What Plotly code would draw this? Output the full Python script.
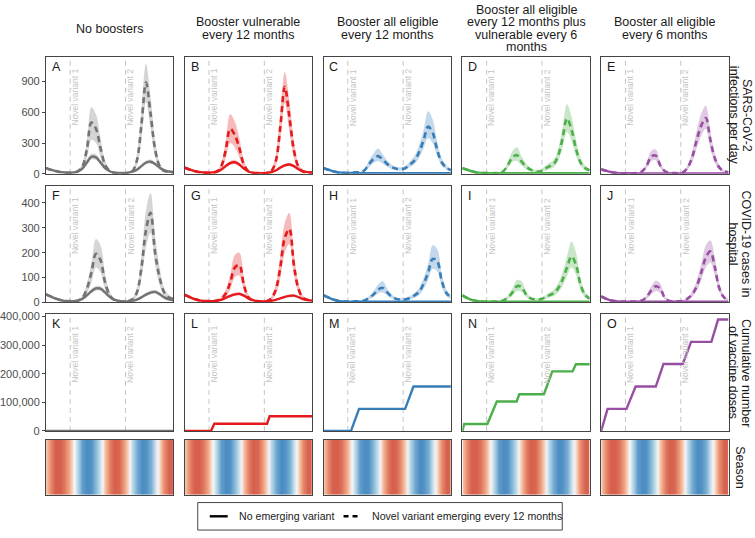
import plotly.graph_objects as go
from plotly.subplots import make_subplots

W, H = 755, 538

# time axis (days since start of simulation)
days = [0, 30, 60, 90, 120, 150, 180, 210, 240, 270, 300, 330, 360, 390, 420,
        450, 480, 510, 540, 570, 600, 630, 660, 690, 720, 750, 780, 810, 840]

variant_days = [160, 525]
variant_labels = ['Novel variant 1', 'Novel variant 2']

col_titles = [['No boosters'],
              ['Booster vulnerable', 'every 12 months'],
              ['Booster all eligible', 'every 12 months'],
              ['Booster all eligible', 'every 12 months plus', 'vulnerable every 6', 'months'],
              ['Booster all eligible', 'every 6 months']]
row_titles = [['SARS-CoV-2', 'infections per day'],
              ['COVID-19 cases in', 'hospital'],
              ['Cumulative number', 'of vaccine doses'],
              ['Season']]
letters = ['A', 'B', 'C', 'D', 'E', 'F', 'G', 'H', 'I', 'J', 'K', 'L', 'M', 'N', 'O']

# ---- infections per day ----
inf_A_sol    = [55, 40, 28, 18, 12, 10, 12, 22, 50, 110, 165, 160, 110, 55, 25, 12, 8, 7, 10, 20, 40, 75, 108, 118, 95, 60, 35, 22, 18]
inf_A_sol_lo = [45, 32, 22, 14, 9, 8, 9, 17, 40, 90, 140, 135, 92, 45, 20, 9, 6, 5, 8, 16, 32, 62, 92, 100, 80, 50, 28, 17, 14]
inf_A_sol_hi = [68, 50, 35, 23, 15, 13, 15, 28, 62, 132, 195, 190, 130, 68, 31, 15, 10, 9, 13, 25, 50, 90, 128, 140, 112, 72, 43, 28, 23]
inf_A_das    = [55, 40, 28, 18, 12, 10, 12, 25, 70, 240, 500, 440, 250, 90, 28, 10, 6, 5, 8, 25, 130, 480, 890, 590, 240, 75, 28, 18, 15]
inf_A_das_lo = [45, 32, 22, 14, 9, 8, 9, 17, 45, 150, 330, 300, 160, 55, 18, 7, 4, 3, 5, 15, 80, 330, 700, 450, 170, 50, 18, 12, 10]
inf_A_das_hi = [68, 50, 35, 23, 15, 13, 16, 35, 100, 330, 650, 580, 350, 130, 42, 15, 9, 8, 12, 38, 190, 640, 1075, 760, 330, 110, 42, 26, 22]

inf_B_sol    = [60, 42, 28, 18, 12, 10, 12, 20, 40, 75, 105, 112, 90, 50, 22, 10, 7, 6, 8, 15, 32, 60, 82, 90, 75, 45, 25, 16, 12]
inf_B_sol_lo = [50, 35, 23, 14, 9, 8, 9, 15, 31, 60, 88, 94, 75, 41, 17, 7, 5, 4, 6, 11, 25, 48, 68, 75, 62, 37, 20, 12, 9]
inf_B_sol_hi = [72, 50, 34, 22, 15, 13, 15, 26, 50, 92, 126, 134, 108, 60, 28, 13, 9, 8, 11, 19, 40, 73, 98, 108, 90, 55, 31, 20, 15]
inf_B_das    = [60, 42, 28, 18, 12, 10, 12, 20, 70, 230, 440, 380, 250, 90, 25, 7, 5, 5, 8, 25, 120, 450, 850, 560, 230, 70, 22, 14, 12]
inf_B_das_lo = [50, 35, 23, 14, 9, 8, 9, 14, 45, 150, 300, 260, 160, 55, 15, 4, 3, 3, 5, 15, 75, 320, 690, 420, 160, 45, 14, 9, 8]
inf_B_das_hi = [72, 50, 34, 22, 15, 13, 16, 28, 100, 320, 580, 510, 350, 130, 38, 11, 8, 8, 12, 38, 180, 600, 990, 720, 320, 100, 32, 20, 17]

inf_C_sol    = [55, 40, 25, 15, 10, 8, 7, 7, 6, 6, 6, 6, 6, 5, 5, 5, 5, 5, 5, 5, 5, 5, 5, 5, 5, 5, 5, 5, 5]
inf_C_sol_lo = [48, 34, 21, 12, 8, 6, 5, 5, 4, 4, 4, 4, 4, 3, 3, 3, 3, 3, 3, 3, 3, 3, 3, 3, 3, 3, 3, 3, 3]
inf_C_sol_hi = [63, 46, 29, 18, 12, 10, 9, 9, 8, 8, 8, 8, 8, 7, 7, 7, 7, 7, 7, 7, 7, 7, 7, 7, 7, 7, 7, 7, 7]
inf_C_das    = [55, 40, 25, 15, 10, 8, 10, 15, 15, 35, 95, 145, 172, 140, 95, 65, 50, 45, 55, 90, 130, 210, 330, 460, 400, 230, 110, 60, 35]
inf_C_das_lo = [48, 34, 21, 12, 8, 6, 7, 10, 10, 22, 65, 105, 125, 100, 68, 46, 35, 32, 40, 65, 95, 155, 250, 350, 300, 170, 80, 42, 24]
inf_C_das_hi = [63, 46, 29, 18, 12, 10, 13, 20, 21, 50, 130, 200, 248, 190, 128, 88, 68, 62, 78, 120, 175, 280, 430, 610, 530, 310, 150, 82, 48]

inf_D_sol    = [55, 40, 25, 14, 9, 7, 6, 6, 5, 5, 5, 5, 5, 5, 5, 5, 5, 5, 5, 5, 5, 5, 5, 5, 5, 5, 5, 5, 5]
inf_D_sol_lo = [48, 34, 21, 12, 7, 5, 4, 4, 3, 3, 3, 3, 3, 3, 3, 3, 3, 3, 3, 3, 3, 3, 3, 3, 3, 3, 3, 3, 3]
inf_D_sol_hi = [63, 46, 29, 17, 11, 9, 8, 8, 7, 7, 7, 7, 7, 7, 7, 7, 7, 7, 7, 7, 7, 7, 7, 7, 7, 7, 7, 7, 7]
inf_D_das    = [55, 40, 25, 14, 9, 7, 6, 6, 8, 25, 85, 160, 182, 120, 70, 40, 25, 22, 45, 70, 90, 170, 340, 540, 430, 240, 110, 55, 35]
inf_D_das_lo = [48, 34, 21, 12, 7, 5, 4, 4, 5, 16, 58, 115, 125, 80, 46, 26, 16, 14, 28, 45, 60, 120, 250, 410, 320, 170, 75, 36, 22]
inf_D_das_hi = [63, 46, 29, 17, 11, 9, 8, 8, 11, 36, 120, 220, 262, 170, 100, 58, 37, 33, 68, 105, 130, 235, 450, 680, 560, 330, 155, 80, 52]

inf_E_sol    = [45, 30, 18, 10, 6, 5, 5, 5, 4, 4, 4, 4, 4, 4, 4, 4, 4, 4, 4, 4, 4, 4, 4, 4, 4, 4, 4, 4, 4]
inf_E_sol_lo = [40, 26, 15, 8, 5, 4, 4, 4, 3, 3, 3, 3, 3, 3, 3, 3, 3, 3, 3, 3, 3, 3, 3, 3, 3, 3, 3, 3, 3]
inf_E_sol_hi = [52, 35, 22, 12, 8, 6, 6, 6, 5, 5, 5, 5, 5, 5, 5, 5, 5, 5, 5, 5, 5, 5, 5, 5, 5, 5, 5, 5, 5]
inf_E_das    = [45, 30, 18, 10, 6, 5, 5, 5, 8, 25, 80, 170, 178, 80, 25, 10, 7, 6, 15, 60, 160, 330, 470, 545, 330, 150, 60, 25, 15]
inf_E_das_lo = [40, 26, 15, 8, 5, 4, 4, 4, 5, 16, 55, 125, 130, 55, 16, 6, 4, 4, 9, 40, 115, 250, 370, 440, 250, 105, 40, 16, 9]
inf_E_das_hi = [52, 35, 22, 12, 8, 6, 6, 6, 11, 35, 110, 225, 238, 110, 36, 14, 10, 9, 22, 85, 215, 420, 590, 665, 420, 200, 82, 35, 22]

# ---- hospital occupancy ----
hos_A_sol    = [32, 24, 16, 10, 6, 5, 5, 7, 14, 28, 45, 56, 55, 40, 22, 11, 6, 4, 4, 6, 11, 20, 31, 39, 42, 33, 20, 12, 8]
hos_A_sol_lo = [27, 20, 13, 8, 5, 4, 4, 5, 11, 22, 37, 47, 46, 33, 18, 9, 5, 3, 3, 5, 8, 16, 25, 32, 35, 27, 16, 9, 6]
hos_A_sol_hi = [38, 29, 19, 12, 8, 6, 6, 9, 17, 34, 54, 66, 65, 48, 27, 14, 8, 5, 5, 8, 14, 25, 38, 47, 50, 40, 25, 15, 10]
hos_A_das    = [32, 24, 16, 10, 6, 5, 5, 7, 18, 55, 120, 195, 170, 80, 30, 10, 5, 4, 5, 12, 40, 140, 290, 360, 200, 100, 40, 20, 14]
hos_A_das_lo = [27, 20, 13, 8, 5, 4, 4, 5, 12, 35, 80, 140, 120, 52, 18, 6, 3, 2, 3, 7, 25, 95, 220, 280, 150, 70, 26, 12, 9]
hos_A_das_hi = [38, 29, 19, 12, 8, 6, 6, 10, 25, 75, 160, 255, 230, 115, 45, 15, 8, 6, 8, 18, 58, 190, 370, 440, 270, 140, 58, 30, 20]

hos_B_sol    = [30, 22, 14, 9, 6, 5, 5, 6, 10, 18, 26, 32, 34, 27, 16, 9, 5, 4, 4, 6, 10, 16, 22, 26, 27, 21, 13, 9, 7]
hos_B_sol_lo = [25, 18, 11, 7, 5, 4, 4, 5, 8, 14, 21, 26, 28, 22, 13, 7, 4, 3, 3, 5, 8, 13, 18, 21, 22, 17, 10, 7, 5]
hos_B_sol_hi = [36, 27, 17, 11, 8, 6, 6, 8, 12, 22, 32, 39, 41, 33, 20, 11, 7, 5, 5, 8, 12, 20, 27, 32, 33, 26, 16, 11, 9]
hos_B_das    = [30, 22, 14, 9, 6, 5, 5, 7, 15, 35, 80, 140, 150, 70, 20, 8, 5, 4, 5, 15, 50, 140, 260, 295, 150, 55, 18, 10, 8]
hos_B_das_lo = [25, 18, 11, 7, 5, 4, 4, 5, 10, 22, 52, 100, 108, 48, 13, 5, 3, 2, 3, 9, 32, 95, 200, 235, 110, 38, 11, 6, 5]
hos_B_das_hi = [36, 27, 17, 11, 8, 6, 6, 9, 21, 50, 110, 190, 200, 100, 30, 11, 7, 6, 7, 22, 70, 190, 320, 360, 200, 78, 27, 15, 11]

hos_C_sol    = [28, 20, 12, 7, 4, 3, 3, 3, 3, 3, 3, 3, 3, 3, 3, 3, 3, 3, 3, 3, 3, 3, 3, 3, 3, 3, 3, 3, 3]
hos_C_sol_lo = [24, 17, 10, 6, 3, 2, 2, 2, 2, 2, 2, 2, 2, 2, 2, 2, 2, 2, 2, 2, 2, 2, 2, 2, 2, 2, 2, 2, 2]
hos_C_sol_hi = [33, 24, 14, 9, 5, 4, 4, 4, 4, 4, 4, 4, 4, 4, 4, 4, 4, 4, 4, 4, 4, 4, 4, 4, 4, 4, 4, 4, 4]
hos_C_das    = [28, 20, 12, 7, 4, 3, 3, 4, 5, 8, 18, 32, 52, 58, 40, 22, 14, 11, 12, 18, 28, 42, 75, 120, 175, 165, 85, 38, 20]
hos_C_das_lo = [24, 17, 10, 6, 3, 2, 2, 3, 3, 5, 12, 22, 36, 40, 28, 15, 9, 7, 8, 12, 19, 29, 55, 90, 135, 125, 62, 26, 13]
hos_C_das_hi = [33, 24, 14, 9, 5, 4, 4, 5, 7, 11, 25, 45, 72, 85, 56, 31, 20, 16, 17, 25, 38, 58, 98, 155, 230, 215, 112, 52, 28]

hos_D_sol    = [28, 18, 10, 6, 4, 3, 3, 3, 3, 3, 3, 3, 3, 3, 3, 3, 3, 3, 3, 3, 3, 3, 3, 3, 3, 3, 3, 3, 3]
hos_D_sol_lo = [24, 15, 8, 5, 3, 2, 2, 2, 2, 2, 2, 2, 2, 2, 2, 2, 2, 2, 2, 2, 2, 2, 2, 2, 2, 2, 2, 2, 2]
hos_D_sol_hi = [33, 21, 12, 7, 5, 4, 4, 4, 4, 4, 4, 4, 4, 4, 4, 4, 4, 4, 4, 4, 4, 4, 4, 4, 4, 4, 4, 4, 4]
hos_D_das    = [28, 18, 10, 6, 4, 3, 3, 3, 4, 8, 20, 40, 65, 62, 32, 16, 12, 12, 18, 28, 36, 55, 90, 140, 185, 150, 70, 30, 15]
hos_D_das_lo = [24, 15, 8, 5, 3, 2, 2, 2, 3, 5, 13, 27, 45, 43, 22, 11, 8, 8, 12, 19, 25, 38, 65, 105, 140, 110, 50, 20, 10]
hos_D_das_hi = [33, 21, 12, 7, 5, 4, 4, 4, 5, 11, 28, 56, 90, 85, 45, 23, 17, 17, 25, 38, 50, 76, 120, 185, 245, 200, 95, 42, 21]

hos_E_sol    = [24, 15, 8, 5, 3, 3, 3, 3, 3, 3, 3, 3, 3, 3, 3, 3, 3, 3, 3, 3, 3, 3, 3, 3, 3, 3, 3, 3, 3]
hos_E_sol_lo = [21, 13, 7, 4, 2, 2, 2, 2, 2, 2, 2, 2, 2, 2, 2, 2, 2, 2, 2, 2, 2, 2, 2, 2, 2, 2, 2, 2, 2]
hos_E_sol_hi = [28, 18, 10, 6, 4, 4, 4, 4, 4, 4, 4, 4, 4, 4, 4, 4, 4, 4, 4, 4, 4, 4, 4, 4, 4, 4, 4, 4, 4]
hos_E_das    = [24, 15, 8, 5, 3, 3, 3, 3, 4, 8, 22, 48, 65, 55, 18, 6, 4, 4, 6, 15, 32, 65, 120, 180, 205, 140, 55, 20, 10]
hos_E_das_lo = [21, 13, 7, 4, 2, 2, 2, 2, 3, 5, 14, 33, 46, 38, 12, 4, 2, 2, 4, 10, 22, 46, 90, 140, 160, 105, 40, 13, 6]
hos_E_das_hi = [28, 18, 10, 6, 4, 4, 4, 4, 6, 11, 30, 65, 88, 75, 26, 9, 6, 6, 9, 21, 44, 88, 155, 230, 250, 180, 75, 28, 15]

# ---- cumulative vaccine doses (breakpoints) ----
dose_A_days = [0, 840]
dose_A      = [0, 0]
dose_B_days = [0, 173, 195, 543, 560, 840]
dose_B      = [0, 0, 25000, 25000, 51000, 51000]
dose_C_days = [0, 181, 234, 538, 593, 840]
dose_C      = [0, 0, 77000, 77000, 155000, 155000]
dose_D_days = [0, 12, 165, 227, 358, 375, 538, 593, 727, 749, 840]
dose_D      = [0, 24000, 24000, 103000, 103000, 128000, 128000, 208000, 208000, 233000, 233000]
dose_E_days = [0, 42, 167, 227, 360, 411, 538, 593, 727, 771, 840]
dose_E      = [0, 77000, 77000, 155000, 155000, 234000, 234000, 311000, 311000, 389000, 389000]

# ---- season forcing strip (+1 = winter/red, -1 = summer/blue) ----
season = [0.3, 0.75, 1.0, 1.0, 0.85, 0.5, 0.1, -0.4, -0.85, -1.0, -0.95, -0.6, -0.15, 0.35, 0.8,
          1.0, 0.95, 0.65, 0.2, -0.3, -0.75, -1.0, -0.95, -0.7, -0.25, 0.25, 0.7, 1.0, 0.95]

colors = ['#737373', '#e41a1c', '#377eb8', '#4daf4a', '#984ea3']
fills = ['rgba(115,115,115,0.3)', 'rgba(228,26,28,0.3)', 'rgba(55,126,184,0.3)',
         'rgba(77,175,74,0.3)', 'rgba(152,78,163,0.3)']

inf_series = [
    (inf_A_sol, inf_A_sol_lo, inf_A_sol_hi, inf_A_das, inf_A_das_lo, inf_A_das_hi),
    (inf_B_sol, inf_B_sol_lo, inf_B_sol_hi, inf_B_das, inf_B_das_lo, inf_B_das_hi),
    (inf_C_sol, inf_C_sol_lo, inf_C_sol_hi, inf_C_das, inf_C_das_lo, inf_C_das_hi),
    (inf_D_sol, inf_D_sol_lo, inf_D_sol_hi, inf_D_das, inf_D_das_lo, inf_D_das_hi),
    (inf_E_sol, inf_E_sol_lo, inf_E_sol_hi, inf_E_das, inf_E_das_lo, inf_E_das_hi),
]
hos_series = [
    (hos_A_sol, hos_A_sol_lo, hos_A_sol_hi, hos_A_das, hos_A_das_lo, hos_A_das_hi),
    (hos_B_sol, hos_B_sol_lo, hos_B_sol_hi, hos_B_das, hos_B_das_lo, hos_B_das_hi),
    (hos_C_sol, hos_C_sol_lo, hos_C_sol_hi, hos_C_das, hos_C_das_lo, hos_C_das_hi),
    (hos_D_sol, hos_D_sol_lo, hos_D_sol_hi, hos_D_das, hos_D_das_lo, hos_D_das_hi),
    (hos_E_sol, hos_E_sol_lo, hos_E_sol_hi, hos_E_das, hos_E_das_lo, hos_E_das_hi),
]
dose_series = [(dose_A_days, dose_A), (dose_B_days, dose_B), (dose_C_days, dose_C),
               (dose_D_days, dose_D), (dose_E_days, dose_E)]

FONT = 'Liberation Sans, Arial, sans-serif'
DASH = '6px,4px'
TXT = '#1a1a1a'

fig = make_subplots(rows=4, cols=5)

# panel geometry in pixels
col_left = [45, 184, 323, 462, 601]
col_w = 127.5
row_top = [54, 185, 316, 444]
row_bot = [173, 304, 435, 500]
y_ranges = [[0, 1140], [0, 470], [0, 408000], [0, 1]]
y_ticks = [[0, 300, 600, 900], [0, 100, 200, 300, 400],
           [0, 100000, 200000, 300000, 400000], []]


def ax_names(r, c):
    idx = r * 5 + c + 1
    s = '' if idx == 1 else str(idx)
    return 'x' + s, 'y' + s


def add_band(lo, hi, fill, r, c):
    fig.add_trace(go.Scatter(x=days, y=lo, mode='lines', line=dict(width=0, shape='spline'),
                             hoverinfo='skip', showlegend=False), row=r, col=c)
    fig.add_trace(go.Scatter(x=days, y=hi, mode='lines', line=dict(width=0, shape='spline'),
                             fill='tonexty', fillcolor=fill, hoverinfo='skip',
                             showlegend=False), row=r, col=c)


for c in range(5):
    for r, series in ((1, inf_series[c]), (2, hos_series[c])):
        sol, sol_lo, sol_hi, das, das_lo, das_hi = series
        add_band(sol_lo, sol_hi, fills[c], r, c + 1)
        add_band(das_lo, das_hi, fills[c], r, c + 1)
        fig.add_trace(go.Scatter(x=days, y=sol, mode='lines', showlegend=False,
                                 line=dict(color=colors[c], width=2.4, shape='spline')),
                      row=r, col=c + 1)
        fig.add_trace(go.Scatter(x=days, y=das, mode='lines', showlegend=False,
                                 line=dict(color=colors[c], width=2.6, shape='spline', dash=DASH)),
                      row=r, col=c + 1)
    dx, dy = dose_series[c]
    fig.add_trace(go.Scatter(x=dx, y=dy, mode='lines', showlegend=False,
                             line=dict(color=colors[c], width=2.4)), row=3, col=c + 1)
    fig.add_trace(go.Heatmap(x=days, y=[0, 1], z=[season, season], zsmooth='best',
                             zmin=-1, zmax=1, showscale=False, hoverinfo='skip',
                             colorscale=[[0, '#4a8cc2'], [0.25, '#9cc8e0'], [0.5, '#f7f7f7'],
                                         [0.75, '#f2a784'], [1, '#d6604d']]),
                  row=4, col=c + 1)

for r in range(4):
    for c in range(5):
        fig.update_xaxes(domain=[col_left[c] / W, (col_left[c] + col_w) / W],
                         range=[0, 840], showgrid=False, zeroline=False, showticklabels=False,
                         ticks='', showline=True, mirror=True, linecolor='#444444', linewidth=1,
                         row=r + 1, col=c + 1)
        fig.update_yaxes(domain=[1 - row_bot[r] / H, 1 - row_top[r] / H],
                         range=y_ranges[r], showgrid=False, zeroline=False,
                         tickvals=y_ticks[r], tickformat=',',
                         showticklabels=(c == 0), ticks='outside' if (c == 0 and r < 3) else '',
                         ticklen=3, tickcolor='#444444',
                         tickfont=dict(size=11, color='#4d4d4d', family=FONT),
                         showline=True, mirror=True, linecolor='#444444', linewidth=1,
                         row=r + 1, col=c + 1)

# variant markers, panel letters
for r in range(3):
    for c in range(5):
        xa, ya = ax_names(r, c)
        for vd, vl in zip(variant_days, variant_labels):
            fig.add_shape(type='line', x0=vd, x1=vd, y0=0, y1=1, xref=xa, yref=ya + ' domain',
                          layer='below', line=dict(color='#c4c4c4', width=1, dash='5px,4px'))
            # label hangs from just below the panel top
            fig.add_annotation(x=vd, y=(119 - 10) / 119, xref=xa, yref=ya + ' domain', text=vl,
                               textangle=-90, showarrow=False, xshift=5,
                               xanchor='center', yanchor='top',
                               font=dict(size=8.5, color='#c4c4c4', family=FONT))
        fig.add_annotation(x=0.03, y=0.99, xref=xa + ' domain', yref=ya + ' domain',
                           text=letters[r * 5 + c], showarrow=False, xanchor='left',
                           yanchor='top', font=dict(size=12.5, color=TXT, family=FONT))

# column titles, one annotation per line for tight spacing
LINE = 12.8
for c, lines in enumerate(col_titles):
    n = len(lines)
    for i, t in enumerate(lines):
        ypx = 25 + (i - (n - 1) / 2) * LINE
        fig.add_annotation(x=(col_left[c] + col_w / 2) / W, y=1 - ypx / H, xref='paper',
                           yref='paper', text=t, showarrow=False, xanchor='center',
                           yanchor='middle', font=dict(size=12.5, color=TXT, family=FONT))

# row titles (rotated, first line on the right)
for r, lines in enumerate(row_titles):
    n = len(lines)
    for i, t in enumerate(lines):
        xpx = 740 - (i - (n - 1) / 2) * 13
        fig.add_annotation(x=xpx / W, y=1 - (row_top[r] + row_bot[r]) / 2 / H, xref='paper',
                           yref='paper', text=t, textangle=90, showarrow=False,
                           xanchor='center', yanchor='middle',
                           font=dict(size=12.5, color=TXT, family=FONT))

# legend box
fig.add_shape(type='rect', xref='paper', yref='paper', x0=197 / W, x1=562 / W,
              y0=1 - 536 / H, y1=1 - 508 / H, line=dict(color='#444444', width=1))
fig.add_shape(type='line', xref='paper', yref='paper', x0=209 / W, x1=227 / W,
              y0=1 - 522 / H, y1=1 - 522 / H, line=dict(color='black', width=2.4))
fig.add_shape(type='line', xref='paper', yref='paper', x0=343 / W, x1=359 / W,
              y0=1 - 522 / H, y1=1 - 522 / H, line=dict(color='black', width=2.4, dash='5px,4px'))
fig.add_annotation(x=236 / W, y=1 - 522 / H, xref='paper', yref='paper',
                   text='No emerging variant', showarrow=False, xanchor='left',
                   yanchor='middle', font=dict(size=10.6, color=TXT, family=FONT))
fig.add_annotation(x=369 / W, y=1 - 522 / H, xref='paper', yref='paper',
                   text='Novel variant emerging every 12 months', showarrow=False,
                   xanchor='left', yanchor='middle',
                   font=dict(size=10.6, color=TXT, family=FONT))

fig.update_layout(width=W, height=H, margin=dict(l=0, r=0, t=0, b=0),
                  plot_bgcolor='white', paper_bgcolor='white', showlegend=False,
                  font=dict(family=FONT))

# the page body has a default 8px margin; drop it so the figure fills the window
fig.write_html('out.html', config={'displayModeBar': False},
               post_script="document.body.style.margin='0';")
